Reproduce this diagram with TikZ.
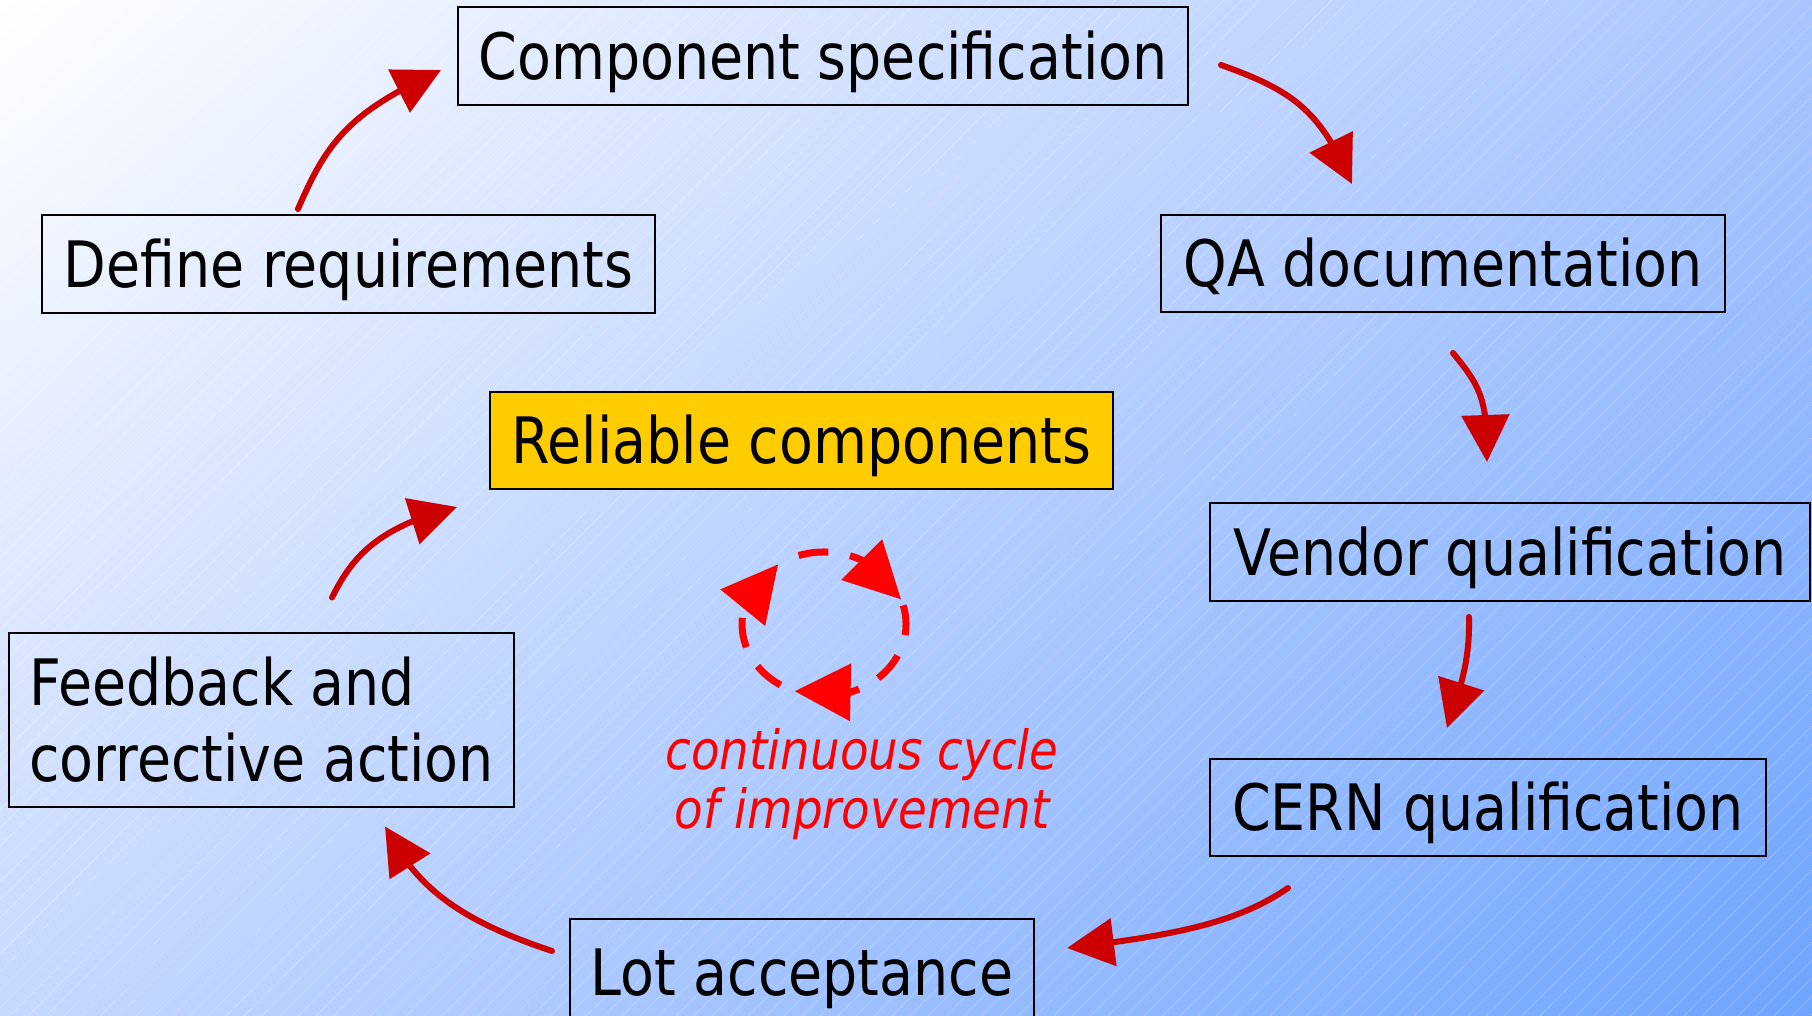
\documentclass[tikz,border=0pt]{standalone}
\usepackage{fontspec}
\setmainfont{DejaVu Sans}[FakeStretch=0.866]
\usetikzlibrary{arrows.meta,shadings,bending}
\definecolor{arrowred}{HTML}{CC0000}
\definecolor{cyclered}{HTML}{FF0000}
\definecolor{gold}{HTML}{FFCC00}
\definecolor{bgTR}{HTML}{AAC5FF}
\definecolor{bgBL}{HTML}{C6D8FF}
\definecolor{bgBR}{HTML}{6EA4FF}
\begin{document}
\begin{tikzpicture}[x=0.5pt, y=-0.5pt,
  boxbase/.style={draw=black, line width=1pt, inner sep=0pt, font=\fontsize{32}{38}\selectfont},
  box/.style={boxbase, text height=23.3pt, text depth=0pt},
  flow/.style={draw=arrowred, line width=3pt, line cap=round, -{Triangle[length=23.5pt, width=23.5pt]}},
  cycarrow/.style={draw=cyclered, line width=3.5pt, dash pattern=on 15pt off 11pt, -{Triangle[length=28pt, width=28pt, flex]}},
  lbl/.style={text=cyclered, inner sep=0pt, font=\fontsize{27}{29.5}\selectfont\itshape},
  hatch/.style={draw=white, line width=0.4pt, opacity=0.22}]
\useasboundingbox (0,0) rectangle (1812,1016);
% background
\shade[upper left=white, upper right=bgTR, lower left=bgBL, lower right=bgBR] (0,0) rectangle (1812,1016);
\begin{scope}
  \clip (0,0) rectangle (1812,1016);
  \foreach \c in {0,18,...,2830} \draw[hatch] (\c,0) -- ++(-1016,1016);
\end{scope}
% boxes
\node[box, minimum width=365pt, minimum height=49pt] (comp) at (823,56) {Component specification};
\node[box, minimum width=306.5pt, minimum height=49pt] (def) at (348.5,264) {Define requirements};
\node[box, minimum width=282pt, minimum height=48.5pt] (qa) at (1443,263.5) {QA documentation};
\node[box, fill=gold, minimum width=311.5pt, minimum height=48.5pt] (rel) at (801.5,440.5) {Reliable components};
\node[box, minimum width=300pt, minimum height=49pt] (ven) at (1510,552) {Vendor qualification};
\node[boxbase, align=left, minimum width=252.5pt, minimum height=87pt] (feed) at (261.5,719.5) {Feedback and\\corrective action};
\node[box, minimum width=278pt, minimum height=48.5pt] (cern) at (1488,807.5) {CERN qualification};
\node[box, minimum width=232pt, minimum height=53pt] (lot) at (802,972) {Lot acceptance};
% flow arrows
\draw[flow] ([shift={(-50.5,-5)}]def.north) .. controls +(30,-70) and +(-90,42) .. ([shift={(-16,14)}]comp.west);
\draw[flow] ([shift={(32,9)}]comp.east) .. controls +(70,25) and +(-32,-75) .. ([shift={(-91,-30)}]qa.north);
\draw[flow] ([shift={(10,40)}]qa.south) .. controls +(27,33) and +(1,-63) .. ([shift={(-23,-40)}]ven.north);
\draw[flow] ([shift={(-41,15)}]ven.south) .. controls +(1,45) and +(13,-39) .. ([shift={(-41,-30)}]cern.north);
\draw[flow] ([shift={(-200,31)}]cern.south) .. controls +(-48,33) and +(114,-13) .. ([shift={(32,-24)}]lot.east);
\draw[flow] ([shift={(-17,-21)}]lot.west) .. controls +(-93,-31) and +(31,61) .. ([shift={(-130,19)}]feed.south east);
\draw[flow] ([shift={(70.5,-34)}]feed.north) .. controls +(20,-40) and +(-80,20) .. ([shift={(-32,17)}]rel.south west);
% continuous improvement cycle (clockwise on the page)
\coordinate (cyc) at (824,624);
\draw[cycarrow] ([shift={(-15:82 and 72)}]cyc) arc[start angle=15, end angle=-111, x radius=41pt, y radius=36pt];
\draw[cycarrow] ([shift={(122:82 and 72)}]cyc) arc[start angle=-122, end angle=-236, x radius=41pt, y radius=36pt];
\draw[cycarrow] ([shift={(252:82 and 72)}]cyc) arc[start angle=-252, end angle=-340, x radius=41pt, y radius=36pt];
\node[lbl, align=center, anchor=base] (lab) at (862,828) {continuous cycle\\of improvement};
\end{tikzpicture}
\end{document}
